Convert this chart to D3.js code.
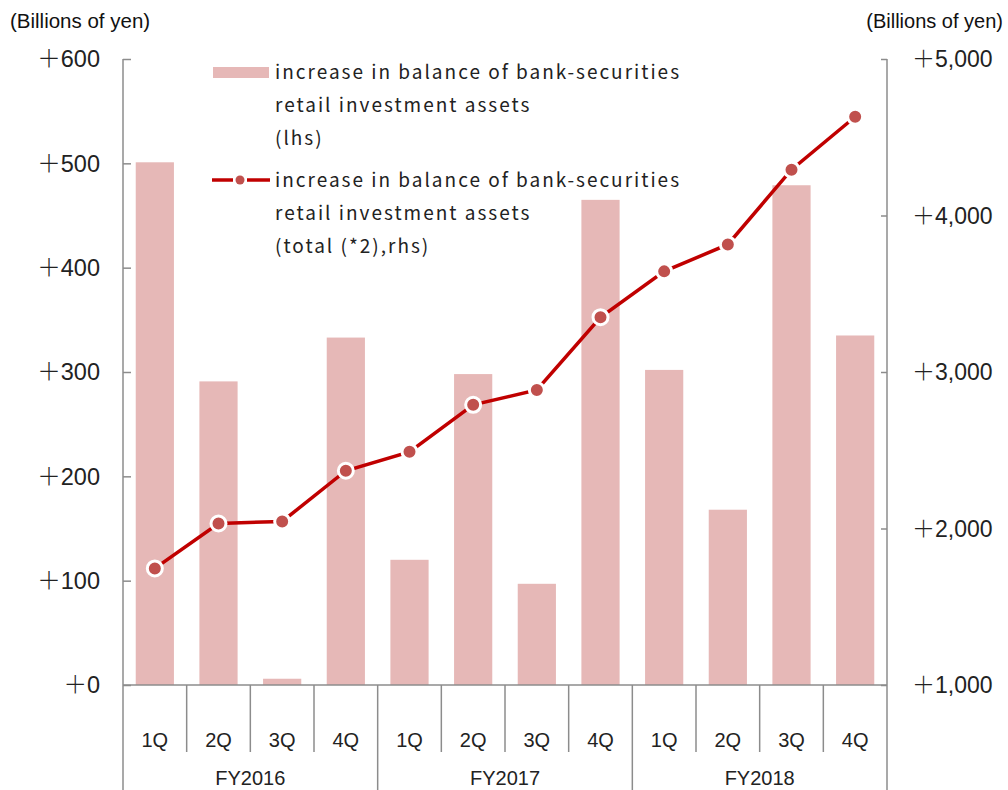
<!DOCTYPE html>
<html><head><meta charset="utf-8">
<script src="https://cdn.jsdelivr.net/npm/d3@7"></script>
<style>body{margin:0;background:#fff;} svg{display:block;}</style>
</head><body>
<svg id="chart" width="1008" height="790"></svg>
<script>
const years = ["FY2016","FY2017","FY2018"];
const quarters = ["1Q","2Q","3Q","4Q"];
const barValues = [501,291,6,333, 120,298,97,465, 302,168,479,335];
const lineValues = [1745,2032,2045,2369, 2490,2790,2885,3350, 3643,3815,4293,4631];
const leftTicks = [0,100,200,300,400,500,600];
const rightTicks = [1000,2000,3000,4000,5000];
const legendBar = ["increase in balance of bank-securities","retail investment assets","(lhs)"];
const legendLine = ["increase in balance of bank-securities","retail investment assets","(total (*2),rhs)"];

const cats = [];
years.forEach(y => quarters.forEach(q => cats.push(y+"|"+q)));

const svg = d3.select("#chart");
const L = 123, R = 887, T = 59, B = 685;
const x = d3.scaleBand().domain(cats).range([L,R]).paddingInner(0.4).paddingOuter(0.2);
const yL = d3.scaleLinear().domain([0,600]).range([B,T]);
const yR = d3.scaleLinear().domain([1000,5000]).range([B,T]);
const step = x.step();
const numFont = "'Liberation Sans', Arial, sans-serif";
const cjk = "'Noto Sans CJK JP', sans-serif";
const fmt = d3.format(",");

// bars
svg.append("g").selectAll("rect").data(barValues).join("rect")
  .attr("x",(d,i)=>x(cats[i])).attr("width",x.bandwidth())
  .attr("y",d=>yL(d)).attr("height",d=>B-yL(d)).attr("fill","#e6b8b7");

// axes
const axisColor = "#8c8c8c";
const gl = svg.append("g").attr("transform",`translate(${L},0)`)
  .call(d3.axisRight(yL).tickValues(leftTicks).tickSize(8).tickFormat(""));
const gr = svg.append("g").attr("transform",`translate(${R},0)`)
  .call(d3.axisLeft(yR).tickValues(rightTicks).tickSize(6).tickFormat(""));
[gl,gr].forEach(g=>{g.select(".domain").attr("stroke",axisColor).attr("stroke-width",1.5).attr("d",`M0,${T}V${B}`);
  g.selectAll(".tick line").attr("stroke",axisColor).attr("stroke-width",1.5);});

// tick labels
function tickLabel(sel){
  sel.each(function(d){
    const t = d3.select(this);
    t.append("tspan").attr("font-family",cjk).attr("font-weight",300).text("＋");
    t.append("tspan").attr("font-family",numFont).text(fmt(d));
  });
}
svg.append("g").selectAll("text").data(leftTicks).join("text")
  .attr("x",100).attr("y",d=>yL(d)).attr("dy","0.36em").attr("text-anchor","end")
  .attr("font-size",23.5).attr("fill","#222").call(tickLabel);
svg.append("g").selectAll("text").data(rightTicks).join("text")
  .attr("x",912).attr("y",d=>yR(d)).attr("dy","0.36em").attr("text-anchor","start")
  .attr("font-size",23).attr("fill","#222").call(tickLabel);

svg.append("text").attr("x",10).attr("y",28).attr("font-family",numFont).attr("font-size",20.5).attr("fill","#111").text("(Billions of yen)");
svg.append("text").attr("x",1003).attr("y",28).attr("text-anchor","end").attr("font-family",numFont).attr("font-size",20).attr("fill","#111").text("(Billions of yen)");

// category axis
const cat = svg.append("g").attr("stroke",axisColor).attr("stroke-width",1.5);
cat.append("line").attr("x1",L).attr("x2",R).attr("y1",B).attr("y2",B);
cats.forEach((c,i)=>{
  const xl = L + i*step;
  const isYear = i%4===0;
  cat.append("line").attr("x1",xl).attr("x2",xl).attr("y1",B).attr("y2",isYear?790:752);
});
cat.append("line").attr("x1",R).attr("x2",R).attr("y1",B).attr("y2",790);
svg.append("g").selectAll("text").data(cats).join("text")
  .attr("x",c=>x(c)+x.bandwidth()/2).attr("y",747).attr("text-anchor","middle")
  .attr("font-family",numFont).attr("font-size",20).attr("fill","#222")
  .text(c=>c.split("|")[1]);
svg.append("g").selectAll("text").data(years).join("text")
  .attr("x",(y,i)=>L+(i*4+2)*step).attr("y",785).attr("text-anchor","middle")
  .attr("font-family",numFont).attr("font-size",20).attr("fill","#222")
  .text(d=>d);

// line
const line = d3.line().x((d,i)=>x(cats[i])+x.bandwidth()/2).y(d=>yR(d));
svg.append("path").datum(lineValues).attr("d",line).attr("fill","none")
  .attr("stroke","#c00000").attr("stroke-width",3.5);
svg.append("g").selectAll("circle").data(lineValues).join("circle")
  .attr("cx",(d,i)=>x(cats[i])+x.bandwidth()/2).attr("cy",d=>yR(d)).attr("r",7.5)
  .attr("fill","#c0504d").attr("stroke","#fff").attr("stroke-width",3);

// legend
const lg = svg.append("g");
lg.append("rect").attr("x",213).attr("y",67).attr("width",56).attr("height",11).attr("fill","#e6b8b7");
lg.append("line").attr("x1",212).attr("x2",270).attr("y1",180).attr("y2",180).attr("stroke","#c00000").attr("stroke-width",3.5);
lg.append("line").attr("x1",233).attr("x2",247).attr("y1",180).attr("y2",180).attr("stroke","#fff").attr("stroke-width",5);
lg.append("circle").attr("cx",240).attr("cy",180).attr("r",4.5).attr("fill","#c0504d");
const legTexts = [[legendBar,72],[legendLine,180]];
legTexts.forEach(([lines,y0])=>{
  lines.forEach((t,j)=>{
    lg.append("text").attr("x",275).attr("y",y0+j*33).attr("dy","0.36em")
      .attr("font-family",cjk).attr("font-size",19).attr("letter-spacing",2).attr("fill","#222").text(t);
  });
});
</script>
</body></html>
